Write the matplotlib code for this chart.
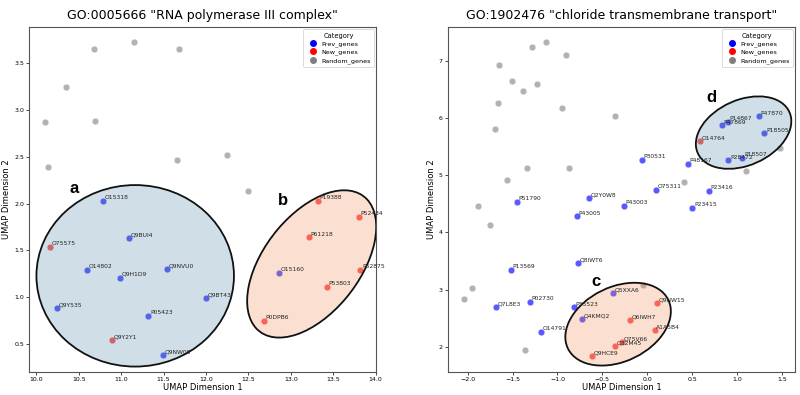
import matplotlib
matplotlib.use("Agg")
import matplotlib.pyplot as plt
from matplotlib.patches import Ellipse
from matplotlib.lines import Line2D

# ---- panel 1: GO:0005666 ----
l_prev_names = ["O15318", "Q9BUI4", "O14802", "Q9H1D9", "Q9NVU0", "Q9BT43",
                "Q9Y535", "P05423", "Q9NW08", "O15160"]
l_prev_x = [10.78, 11.09, 10.60, 10.98, 11.54, 12.00, 10.24, 11.32, 11.49, 12.86]
l_prev_y = [2.03, 1.63, 1.29, 1.21, 1.30, 0.99, 0.88, 0.80, 0.38, 1.26]

l_new_names = ["O75575", "Q9Y2Y1", "P19388", "P52434", "P61218", "P62875", "P53803", "P0DPB6"]
l_new_x = [10.16, 10.89, 13.32, 13.80, 13.21, 13.82, 13.43, 12.68]
l_new_y = [1.54, 0.54, 2.03, 1.86, 1.64, 1.29, 1.11, 0.75]

l_rand_x = [10.68, 11.15, 11.68, 10.35, 10.10, 10.69, 10.14, 11.66, 12.25, 12.50]
l_rand_y = [3.65, 3.73, 3.65, 3.25, 2.87, 2.88, 2.39, 2.47, 2.52, 2.14]

# ---- panel 2: GO:1902476 ----
r_prev_names = ["P14867", "P47870", "P47869", "P18505", "P18507", "P28472", "P30531",
                "P48167", "O75311", "P23416", "P51790", "Q2Y0W8", "P43003", "P23415",
                "P43005", "Q8IWT6", "P13569", "Q5XXA6", "Q7L8E3", "P02730", "P35523",
                "Q4KMQ2", "O14791"]
r_prev_x = [0.896, 1.245, 0.829, 1.304, 1.059, 0.903, -0.059, 0.453, 0.093, 0.684,
            -1.453, -0.643, -0.260, 0.502, -0.780, -0.766, -1.520, -0.386, -1.687,
            -1.304, -0.814, -0.728, -1.178]
r_prev_y = [5.93, 6.03, 5.87, 5.73, 5.30, 5.26, 5.27, 5.20, 4.74, 4.73, 4.53, 4.60,
            4.46, 4.43, 4.28, 3.47, 3.35, 2.94, 2.70, 2.79, 2.69, 2.49, 2.26]

r_new_names = ["O14764", "Q9NW15", "Q6IWH7", "A1A5B4", "Q75V66", "Q32M45", "Q9HCE9"]
r_new_x = [0.591, 0.111, -0.190, 0.082, -0.282, -0.360, -0.613]
r_new_y = [5.59, 2.77, 2.47, 2.29, 2.08, 2.02, 1.84]

r_rand_x = [-1.286, -1.126, -0.907, -1.650, -1.509, -1.226, -1.382, -1.661, -0.944,
            -0.360, -1.695, -1.338, -0.866, -1.561, 0.409, 1.104, 1.475, -1.888,
            -1.750, -1.955, -2.044, -1.360, -0.048]
r_rand_y = [7.245, 7.33, 7.10, 6.93, 6.64, 6.60, 6.47, 6.26, 6.18, 6.04, 5.80, 5.12,
            5.12, 4.91, 4.88, 5.08, 5.47, 4.46, 4.13, 3.03, 2.84, 1.94, 3.08]

BLUE_FILL = (0.28, 0.51, 0.64, 0.25)
ORANGE_FILL = (0.94, 0.53, 0.29, 0.25)


def panel(ax, title, prev, new, rand, ellipses, letters):
    ax.scatter(rand[0], rand[1], s=22, color="gray", alpha=0.6, edgecolors="white", linewidths=0.3, zorder=2)
    ax.scatter(prev[0], prev[1], s=22, color="blue", alpha=0.65, edgecolors="white", linewidths=0.3, zorder=2)
    ax.scatter(new[0], new[1], s=22, color="red", alpha=0.65, edgecolors="white", linewidths=0.3, zorder=2)

    for (cx, cy), w, h, ang, fc in ellipses:
        ax.add_patch(Ellipse((cx, cy), w, h, angle=ang, facecolor=fc,
                             edgecolor="#111111", linewidth=1.3, zorder=3))

    for xs, ys, names in [(prev[0], prev[1], prev[2]), (new[0], new[1], new[2])]:
        for x, y, n in zip(xs, ys, names):
            ax.annotate(n, (x, y), xytext=(1.2, 1.2), textcoords="offset points",
                        fontsize=4.3, color="#222222", zorder=4)

    for (lx, ly), t in letters:
        ax.text(lx, ly, t, fontsize=12, fontweight="bold", family="Liberation Sans",
                ha="center", va="center", zorder=5)

    ax.set_title(title, fontsize=9)
    ax.set_xlabel("UMAP Dimension 1", fontsize=6, labelpad=1)
    ax.set_ylabel("UMAP Dimension 2", fontsize=6, labelpad=2)
    ax.tick_params(labelsize=4.5, length=2, width=0.5, pad=1.5)
    for sp in ax.spines.values():
        sp.set_color("#555555")
        sp.set_linewidth(0.8)

    handles = [Line2D([], [], marker="o", linestyle="", color=c, markersize=4)
               for c in ["blue", "red", "gray"]]
    leg = ax.legend(handles, ["Prev_genes", "New_genes", "Random_genes"], title="Category",
                    loc="upper right", fontsize=4.6, title_fontsize=4.8, borderpad=0.5,
                    handletextpad=0.3, labelspacing=0.35, borderaxespad=0.4, framealpha=1)
    leg.get_frame().set_linewidth(0.5)


fig, (ax1, ax2) = plt.subplots(1, 2, figsize=(8, 3.95), dpi=100)
fig.subplots_adjust(left=0.036, right=0.994, bottom=0.058, top=0.932, wspace=0.205)

panel(ax1, 'GO:0005666 "RNA polymerase III complex"',
      (l_prev_x, l_prev_y, l_prev_names), (l_new_x, l_new_y, l_new_names), (l_rand_x, l_rand_y),
      [((11.165, 1.229), 2.33, 1.94, 0, BLUE_FILL),
       ((13.247, 1.356), 1.90, 1.09, 46.9, ORANGE_FILL)],
      [((10.44, 2.16), "a"), ((12.91, 2.03), "b")])
ax1.set_xlim(9.91, 14.01)
ax1.set_ylim(0.2, 3.89)
ax1.set_xticks([10.0, 10.5, 11.0, 11.5, 12.0, 12.5, 13.0, 13.5, 14.0])
ax1.set_yticks([0.5, 1.0, 1.5, 2.0, 2.5, 3.0, 3.5])

panel(ax2, 'GO:1902476 "chloride transmembrane transport"',
      (r_prev_x, r_prev_y, r_prev_names), (r_new_x, r_new_y, r_new_names), (r_rand_x, r_rand_y),
      [((-0.324, 2.397), 1.54, 1.05, 62, ORANGE_FILL),
       ((1.074, 5.743), 1.36, 0.94, 59.6, BLUE_FILL)],
      [((-0.569, 3.15), "c"), ((0.717, 6.35), "d")])
ax2.set_xlim(-2.223, 1.649)
ax2.set_ylim(1.56, 7.59)
ax2.set_xticks([-2.0, -1.5, -1.0, -0.5, 0.0, 0.5, 1.0, 1.5])
ax2.set_yticks([2, 3, 4, 5, 6, 7])

fig.savefig("out.png", dpi=100)
